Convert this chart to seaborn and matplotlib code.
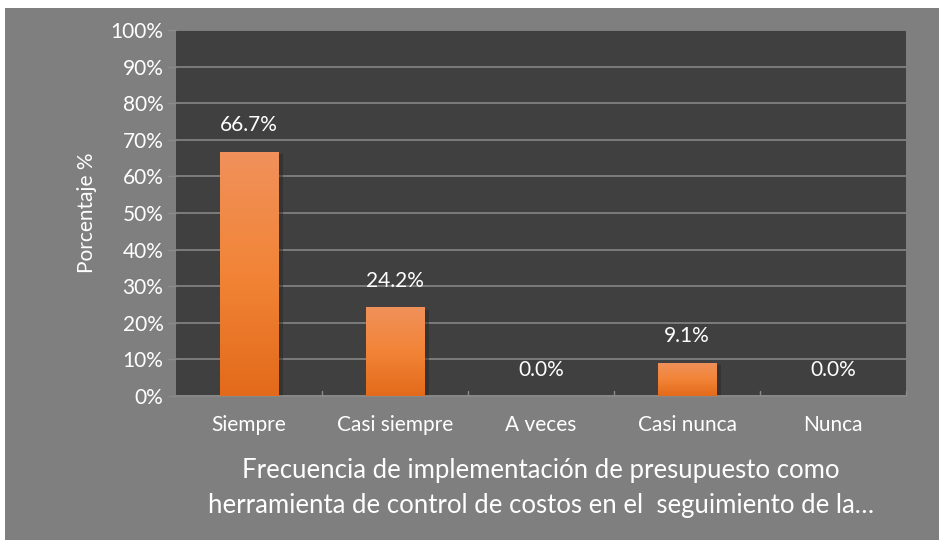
import matplotlib.pyplot as plt
import matplotlib.patches as mpatches
from matplotlib.colors import LinearSegmentedColormap
import numpy as np
import pandas as pd
import seaborn as sns

categorias = ['Siempre', 'Casi siempre', 'A veces', 'Casi nunca', 'Nunca']
porcentajes = [66.7, 24.2, 0.0, 9.1, 0.0]
yticks = [0, 10, 20, 30, 40, 50, 60, 70, 80, 90, 100]
xlabel = ('Frecuencia de implementación de presupuesto como\n'
          'herramienta de control de costos en el  seguimiento de la…')
ylabel = 'Porcentaje %'

sns.set_style('dark')
plt.rcParams['font.family'] = ['Lato', 'DejaVu Sans']

df = pd.DataFrame({'categoria': categorias, 'porcentaje': porcentajes})

fig = plt.figure(figsize=(9.39, 5.40), dpi=100, facecolor='white')
# gray chart area with small white margin top/left
fig.patches.append(mpatches.Rectangle((5 / 939, 0), 1, 1 - 8 / 540,
                                      transform=fig.transFigure,
                                      facecolor='#7f7f7f', edgecolor='none',
                                      zorder=-10))
ax = fig.add_axes([176 / 939, 1 - 396 / 540, 730 / 939, 366 / 540])
ax.set_facecolor('#404040')

sns.barplot(data=df, x='categoria', y='porcentaje', color='#ef7f32',
            width=0.40, ax=ax, zorder=3, saturation=1, linewidth=0)

# gradient fill on bars
cmap = LinearSegmentedColormap.from_list('bar', ['#e36a1a', '#f28437', '#f0915b'])
grad = np.linspace(0, 1, 256).reshape(-1, 1)
for bar in list(ax.patches):
    x0, y0 = bar.get_x(), bar.get_y()
    w, h = bar.get_width(), bar.get_height()
    if h <= 0:
        bar.set_visible(False)
        continue
    # shadow
    ax.add_patch(mpatches.Rectangle((x0 + 0.03, y0 - 0.6), w, h, facecolor='#2a2a2a',
                                    alpha=0.5, edgecolor='none', zorder=2))
    im = ax.imshow(grad, extent=[x0, x0 + w, y0, y0 + h], origin='lower',
                   cmap=cmap, aspect='auto', zorder=4)
    im.set_clip_path(bar)

for i, v in enumerate(porcentajes):
    ax.annotate(f'{v:.1f}%', (i, v), xytext=(0, 19), textcoords='offset points',
                ha='center', va='center', color='white', fontsize=15)

ax.set_xlim(-0.5, len(categorias) - 0.5)
ax.set_ylim(0, 100)
ax.set_yticks(yticks)
ax.set_yticklabels([f'{t}%' for t in yticks])
ax.grid(axis='y', color='#8c8c8c', linewidth=1.1, zorder=1)
ax.grid(axis='x', visible=False)
ax.set_axisbelow(True)

for s in ['top', 'right', 'left']:
    ax.spines[s].set_visible(False)
ax.spines['bottom'].set_color('#8c8c8c')
ax.spines['bottom'].set_linewidth(1.1)

ax.tick_params(axis='y', colors='white', labelsize=15, length=6, width=1,
               color='#8c8c8c', pad=3, left=True)
ax.tick_params(axis='x', colors='white', labelsize=15, length=0, pad=14)
for xb in np.arange(0.5, len(categorias) - 0.5, 1.0):
    ax.plot([xb, xb], [0, 1.5], color='#8c8c8c', linewidth=1, zorder=5)
ax.plot([len(categorias) - 0.5] * 2, [0, 1.5], color='#8c8c8c', linewidth=1, zorder=5, clip_on=False)

ax.set_xlabel(xlabel, color='white', fontsize=18.5, labelpad=16, linespacing=1.5)
ax.set_ylabel(ylabel, color='white', fontsize=15, labelpad=10)

fig.savefig('out.png', dpi=100, facecolor=fig.get_facecolor())
